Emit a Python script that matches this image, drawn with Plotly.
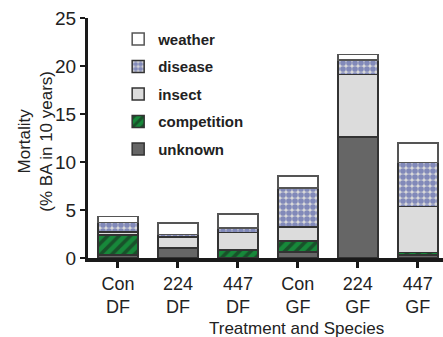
import plotly.graph_objects as go

categories = ["Con<br>DF", "224<br>DF", "447<br>DF", "Con<br>GF", "224<br>GF", "447<br>GF"]
unknown = [0.3, 1.05, 0.05, 0.65, 12.6, 0.3]
competition = [2.1, 0.0, 0.8, 1.1, 0.0, 0.25]
insect = [0.3, 1.15, 1.8, 1.5, 6.5, 4.8]
disease = [1.0, 0.27, 0.5, 4.05, 1.5, 4.6]
weather = [0.6, 1.2, 1.45, 1.25, 0.6, 2.05]
y_ticks = [0, 5, 10, 15, 20, 25]

FONT = "Liberation Sans, Arial, sans-serif"
x_idx = list(range(len(categories)))

fig = go.Figure()
line = dict(color="#333333", width=1.5)

fig.add_bar(x=x_idx, y=unknown, name="unknown", legendgroup="u", legendrank=5,
            marker=dict(color="#666666", line=line))
fig.add_bar(x=x_idx, y=competition, name="competition", legendgroup="c", legendrank=4,
            marker=dict(color="#17883a", line=line,
                        pattern=dict(shape="/", fgcolor="#1a1a1a", bgcolor="#17883a",
                                     size=8, solidity=0.45)))
fig.add_bar(x=x_idx, y=insect, name="insect", legendgroup="i", legendrank=3,
            marker=dict(color="#dcdcdc", line=line))
fig.add_bar(x=x_idx, y=disease, name="disease", legendgroup="d", legendrank=2,
            marker=dict(color="#d4d4d4", line=line,
                        pattern=dict(shape=".", fgcolor="#2a3a9a", bgcolor="#d8d8d8",
                                     size=6, solidity=0.7)))
fig.add_bar(x=x_idx, y=weather, name="weather", legendgroup="w", legendrank=1,
            marker=dict(color="#ffffff", line=dict(color="#555555", width=1.5)))

fig.update_layout(
    barmode="stack",
    bargap=1/3,
    width=443, height=337,
    margin=dict(l=88, r=0, t=18, b=79),
    paper_bgcolor="white", plot_bgcolor="white",
    font=dict(family=FONT, color="#222222"),
    showlegend=True,
    legend=dict(x=0.085, y=0.98, xanchor="left", yanchor="top",
                traceorder="grouped", tracegroupgap=5,
                bgcolor="rgba(0,0,0,0)",
                font=dict(family=FONT, size=15, color="#222222", weight="bold")),
    xaxis=dict(range=[-0.5, 5.42], tickmode="array", tickvals=x_idx, ticktext=categories,
               showline=True, linecolor="#1a1a1a", linewidth=4, ticks="outside",
               ticklen=6, tickwidth=3, tickcolor="#1a1a1a", showgrid=False, zeroline=False,
               automargin=False,
               tickfont=dict(size=18, family=FONT, color="#222222")),
    yaxis=dict(range=[0, 25], tickvals=y_ticks, showline=True, linecolor="#1a1a1a",
               linewidth=3, ticks="outside", ticklen=5, tickwidth=2, tickcolor="#1a1a1a",
               showgrid=False, zeroline=False, automargin=False,
               tickfont=dict(size=19, family=FONT, color="#222222")),
    annotations=[
        dict(text="Mortality<br>(% BA in 10 years)", xref="paper", yref="paper",
             x=-0.15, y=0.4875, xanchor="center", yanchor="middle",
             textangle=-90, showarrow=False,
             font=dict(size=17, family=FONT, color="#222222")),
        dict(text="Treatment and Species", xref="paper", yref="paper",
             x=0.586, y=-0.2917, xanchor="center", yanchor="middle",
             showarrow=False, font=dict(size=17, family=FONT, color="#222222")),
    ],
)

fig.write_html("out.html")
